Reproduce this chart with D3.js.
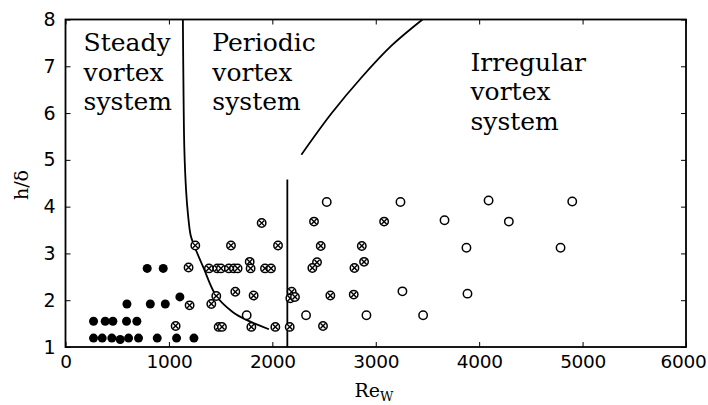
<!DOCTYPE html>
<html><head><meta charset="utf-8">
<script src="https://cdn.jsdelivr.net/npm/d3@7"></script>
<style>body{margin:0;background:#fff}svg{display:block}</style>
</head><body>
<svg id="c" width="708" height="405"></svg>
<script>
// Steady vortex system (filled dots)
const steadyX = [790,945,594,820,965,1106,271,384,458,590,690,271,355,448,529,610,706,887,1074,1242];
const steadyY = [2.68,2.68,1.92,1.92,1.92,2.07,1.55,1.55,1.55,1.55,1.55,1.19,1.19,1.19,1.16,1.19,1.19,1.19,1.19,1.19];
// Periodic vortex system (crossed circles)
const periodicX = [1897,1255,1600,2055,1190,1387,1468,1503,1580,1629,1664,1781,1790,1929,1987,1458,1642,1819,1410,1200,2187,2174,2219,1065,1481,1513,1797,2029,2168,2403,3081,2468,2865,2432,2387,2887,2794,2561,2787,2490];
const periodicY = [3.65,3.17,3.17,3.17,2.70,2.68,2.68,2.68,2.68,2.68,2.68,2.82,2.68,2.68,2.68,2.09,2.18,2.10,1.92,1.89,2.18,2.04,2.07,1.45,1.43,1.43,1.43,1.43,1.43,3.68,3.68,3.16,3.16,2.81,2.69,2.82,2.69,2.10,2.12,1.45];
// Irregular vortex system (open circles)
const irregularX = [1752,2326,2910,3458,2526,3239,4091,3665,4287,3877,3258,3887,4900,4787];
const irregularY = [1.68,1.68,1.68,1.68,4.10,4.10,4.13,3.71,3.68,3.12,2.19,2.14,4.11,3.12];
// Boundary curves
const bound1X = [1135,1142,1149,1166,1185,1210,1242,1335,1458,1616,1749,1967];
const bound1Y = [8.0,6.27,5.25,4.35,3.82,3.39,3.18,2.69,2.09,1.75,1.58,1.38];
const bound2X = [2145,2145];
const bound2Y = [4.58,1.0];
const bound3X = [2281,2571,2862,3152,3452];
const bound3Y = [5.11,5.99,6.76,7.44,8.0];
const xTicks = [0,1000,2000,3000,4000,5000,6000];
const yTicks = [1,2,3,4,5,6,7,8];
const regionLabels = [
  {lines:["Steady","vortex","system"], x:175, y:7.32},
  {lines:["Periodic","vortex","system"], x:1420, y:7.32},
  {lines:["Irregular","vortex","system"], x:3916, y:6.9}
];

const svg = d3.select("#c");
const L=65.5, R=686, T=19.5, B=347;
const x = d3.scaleLinear().domain([0,6000]).range([L,R]);
const y = d3.scaleLinear().domain([1,8]).range([B,T]);

const g = svg.append("g");
const smooth = d3.line().x(d=>x(d[0])).y(d=>y(d[1])).curve(d3.curveCatmullRom.alpha(0.5));
const straight = d3.line().x(d=>x(d[0])).y(d=>y(d[1]));
const pairs = (a,b)=>a.map((v,i)=>[v,b[i]]);
g.append("path").attr("d", smooth(pairs(bound1X,bound1Y)))
  .attr("fill","none").attr("stroke","#000").attr("stroke-width",1.8);
g.append("path").attr("d", straight(pairs(bound2X,bound2Y)))
  .attr("fill","none").attr("stroke","#000").attr("stroke-width",1.8);
g.append("path").attr("d", smooth(pairs(bound3X,bound3Y)))
  .attr("fill","none").attr("stroke","#000").attr("stroke-width",1.8);

// points
const r = 4.2;
g.selectAll(".s").data(pairs(steadyX,steadyY)).enter().append("circle")
  .attr("cx",d=>x(d[0])).attr("cy",d=>y(d[1])).attr("r",4.5).attr("fill","#000");
const pg = g.selectAll(".p").data(pairs(periodicX,periodicY)).enter().append("g")
  .attr("transform",d=>`translate(${x(d[0])},${y(d[1])})`);
pg.append("circle").attr("r",r).attr("fill","#fff").attr("stroke","#000").attr("stroke-width",1.5);
const k = r*0.62;
pg.append("path").attr("d",`M${-k},${-k}L${k},${k}M${-k},${k}L${k},${-k}`).attr("stroke","#000").attr("stroke-width",1.4);
g.selectAll(".o").data(pairs(irregularX,irregularY)).enter().append("circle")
  .attr("cx",d=>x(d[0])).attr("cy",d=>y(d[1])).attr("r",r).attr("fill","#fff").attr("stroke","#000").attr("stroke-width",1.5);

// axes with inward ticks
const tickFont = "'DejaVu Sans', sans-serif";
const ax = (gen, tr) => {
  const a = svg.append("g").attr("transform",tr).call(gen);
  a.select(".domain").remove();
  a.selectAll("line").attr("stroke","#000").attr("stroke-width",1);
  return a;
};
const xb = ax(d3.axisBottom(x).tickValues(xTicks).tickSize(-5).tickPadding(8).tickFormat(d3.format("d")), `translate(0,${B})`);
xb.selectAll("text").attr("font-family",tickFont).attr("font-size",18.5).attr("fill","#000")
  .attr("letter-spacing",-0.3)
  .attr("dx",d=>d===6000?-3:0);
ax(d3.axisTop(x).tickValues(xTicks).tickSize(-5).tickFormat(""), `translate(0,${T})`);
const yl = ax(d3.axisLeft(y).tickValues(yTicks).tickSize(-5).tickPadding(10).tickFormat(d3.format("d")), `translate(${L},0)`);
yl.selectAll("text").attr("font-family",tickFont).attr("font-size",19).attr("fill","#000");
ax(d3.axisRight(y).tickValues(yTicks).tickSize(-5).tickFormat(""), `translate(${R},0)`);

svg.append("rect").attr("x",L).attr("y",T).attr("width",R-L).attr("height",B-T)
  .attr("fill","none").attr("stroke","#000").attr("stroke-width",1.8);

// region labels
const serif = "'DejaVu Serif', serif";
regionLabels.forEach(l=>{
  const t = svg.append("text").attr("font-family",serif).attr("font-size",25).attr("fill","#000");
  l.lines.forEach((s,i)=>t.append("tspan").attr("x",x(l.x)).attr("y",y(l.y)+i*29.5).text(s));
});

// axis titles
svg.append("text").attr("transform",`translate(28,185) rotate(-90)`).attr("text-anchor","middle")
  .attr("font-family",serif).attr("font-size",19).text("h/δ");
const xt = svg.append("text").attr("x",374).attr("y",397).attr("text-anchor","middle")
  .attr("font-family",serif).attr("font-size",19);
xt.append("tspan").text("Re");
xt.append("tspan").attr("font-size",13).attr("dy",4).text("W");
</script>
</body></html>
